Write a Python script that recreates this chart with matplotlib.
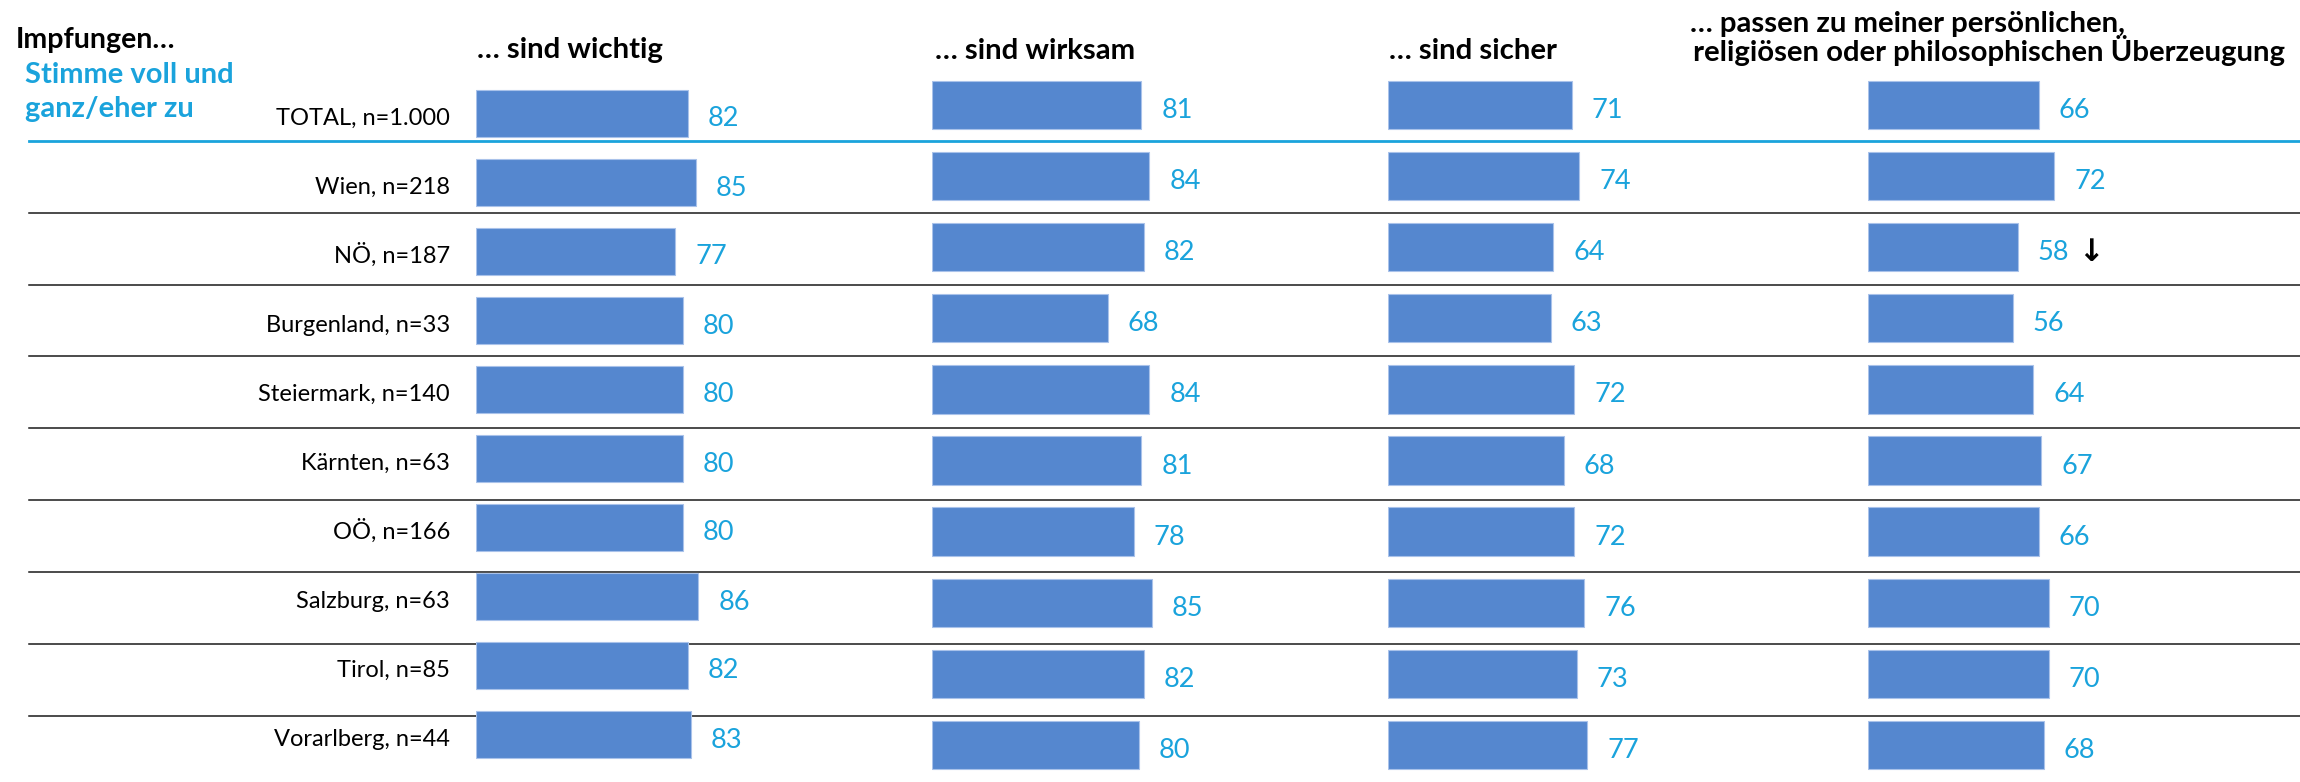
import matplotlib
matplotlib.use("Agg")
import matplotlib.pyplot as plt

# ---------------- data ----------------
regions = ["TOTAL, n=1.000", "Wien, n=218", "NÖ, n=187", "Burgenland, n=33",
           "Steiermark, n=140", "Kärnten, n=63", "OÖ, n=166", "Salzburg, n=63",
           "Tirol, n=85", "Vorarlberg, n=44"]
headers = ["… sind wichtig", "… sind wirksam", "… sind sicher",
           "… passen zu meiner persönlichen,"]
header4_line2 = " religiösen oder philosophischen Überzeugung"
wichtig = [82, 85, 77, 80, 80, 80, 80, 86, 82, 83]
wirksam = [81, 84, 82, 68, 84, 81, 78, 85, 82, 80]
sicher = [71, 74, 64, 63, 72, 68, 72, 76, 73, 77]
passen = [66, 72, 58, 56, 64, 67, 66, 70, 70, 68]
series = [wichtig, wirksam, sicher, passen]
sig_down = [(3, 2)]          # (column, row) marked with a down arrow
title_left = "Impfungen…"
subtitle_left = ["Stimme voll und", "ganz/eher zu"]

# ---------------- style / layout ----------------
W, H = 2300, 782
BAR = "#5587CF"
BAR_EDGE = "#A9C2EA"
CYAN = "#1AA3DC"
FONT = ["Lato", "DejaVu Sans"]

col_left_px = [476, 932, 1388, 1868]
px_per_unit = 2.585
row0_px = [113.5, 105, 105, 105]
row_step_px = [69, 71.1, 71.1, 71.1]
n_rows = len(regions)

fig = plt.figure(figsize=(W / 100, H / 100), dpi=100)
fig.patch.set_facecolor("white")


def fx(px):
    return px / W


def fy(py):
    return 1 - py / H


# separator lines (drawn underneath the bars)
ax_l = fig.add_axes([0, 0, 1, 1])
ax_l.set_axis_off()
line0_px, line_step_px = 140.7, 71.9
ax_l.set_xlim(0, 1)
ax_l.set_ylim((H - line0_px) / line_step_px, -line0_px / line_step_px)
ax_l.axhline(0, xmin=fx(29), xmax=1, color=CYAN, lw=2.0, zorder=1)
for k in range(1, n_rows - 1):
    ax_l.axhline(k, xmin=fx(29), xmax=1, color="#1a1a1a", lw=1.1, zorder=1)

# bar columns
axes = []
for c, vals in enumerate(series):
    top_px = row0_px[c] - 0.5 * row_step_px[c]
    bot_px = row0_px[c] + (n_rows - 0.5) * row_step_px[c]
    width_px = 100 * px_per_unit
    ax = fig.add_axes([fx(col_left_px[c]), fy(bot_px),
                       fx(width_px), (bot_px - top_px) / H])
    ax.patch.set_alpha(0)
    ax.set_xlim(0, 100)
    ax.set_ylim(n_rows - 0.5, -0.5)
    ax.set_axis_off()
    ypos = list(range(n_rows))
    ax.barh(ypos, vals, height=0.68, left=0, color=BAR,
            edgecolor=BAR_EDGE, linewidth=0.8, zorder=3)
    for i, v in enumerate(vals):
        ax.annotate(str(v), xy=(v, i), xytext=(20, -13),
                    textcoords="offset pixels", ha="left", va="baseline",
                    color=CYAN, fontsize=19.5, family=FONT,
                    annotation_clip=False)
    axes.append(ax)

for (c, r) in sig_down:
    v = series[c][r]
    axes[c].annotate("↓", xy=(v, r), xytext=(60, -5),
                     textcoords="offset pixels", ha="left", va="center",
                     color="black", fontsize=22, fontweight="bold",
                     family=["DejaVu Sans"], annotation_clip=False)

# region labels
for i, lab in enumerate(regions):
    axes[0].annotate(lab, xy=(0, i), xytext=(-26, -11.5),
                     textcoords="offset pixels", ha="right", va="baseline",
                     color="black", fontsize=17, family=FONT,
                     annotation_clip=False)

# column headers
header_base_px = [58.3, 59.3, 59.0, 32.3]
header_x_px = [477, 935, 1389, 1690]
for c, h in enumerate(headers):
    fig.text(fx(header_x_px[c]), fy(header_base_px[c]), h, ha="left",
             va="baseline", fontsize=21.2, fontweight="bold", family=FONT,
             color="black")
fig.text(fx(1686), fy(61), header4_line2, ha="left", va="baseline",
         fontsize=21.1, fontweight="bold", family=FONT, color="black")

# top-left titles
fig.text(fx(16), fy(48), title_left, ha="left", va="baseline",
         fontsize=20.5, fontweight="bold", family=FONT, color="black")
fig.text(fx(25), fy(83), subtitle_left[0], ha="left", va="baseline",
         fontsize=21, fontweight="bold", family=FONT, color=CYAN)
fig.text(fx(25), fy(116.7), subtitle_left[1], ha="left", va="baseline",
         fontsize=21, fontweight="bold", family=FONT, color=CYAN)

fig.savefig("out.png", dpi=100, facecolor="white")
